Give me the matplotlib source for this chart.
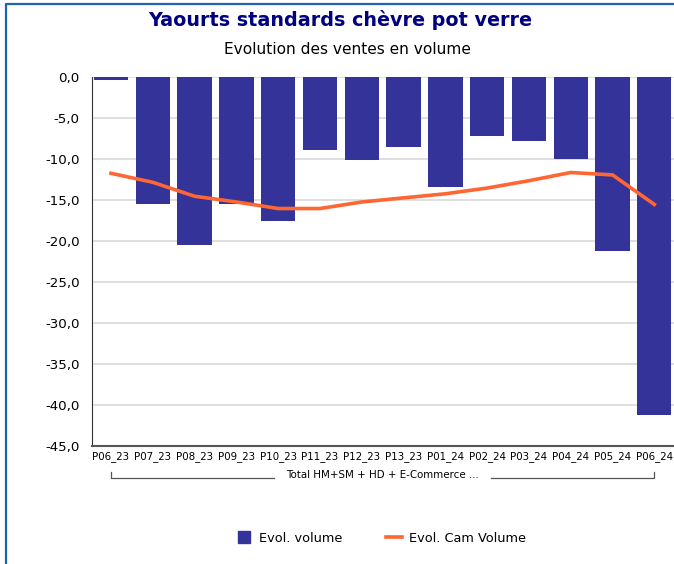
import matplotlib
matplotlib.use("Agg")
import matplotlib.pyplot as plt
from matplotlib.lines import Line2D
import matplotlib.transforms as mtransforms

periods = ["P06_23", "P07_23", "P08_23", "P09_23", "P10_23", "P11_23", "P12_23",
           "P13_23", "P01_24", "P02_24", "P03_24", "P04_24", "P05_24", "P06_24"]
evol_volume = [-0.3, -15.4, -20.5, -15.4, -17.5, -8.9, -10.1,
               -8.5, -13.4, -7.1, -7.8, -10.0, -21.2, -41.2]
evol_cam_volume = [-11.7, -12.8, -14.5, -15.2, -16.0, -16.0, -15.2,
                   -14.7, -14.2, -13.5, -12.6, -11.6, -11.9, -15.5]
yticks = [0, -5, -10, -15, -20, -25, -30, -35, -40, -45]
group_label = "Total HM+SM + HD + E-Commerce ..."

bar_col = "#333399"
line_col = "#ff6633"
W, H = 674, 564

fig = plt.figure(figsize=(W / 100, H / 100), dpi=100)
ax = fig.add_axes([92 / W, (H - 446) / H, (W - 92) / W, (446 - 77.5) / H])

x = list(range(len(periods)))
ax.bar(x, evol_volume, width=0.82, color=bar_col, zorder=2)
ax.plot(x, evol_cam_volume, color=line_col, linewidth=2.6, zorder=3,
        solid_joinstyle="round")

ax.set_xlim(-0.455, 13.47)
ax.set_ylim(-45, 0)
ax.set_yticks(yticks)
ax.set_yticklabels([f"{v:.1f}".replace(".", ",") for v in yticks], fontsize=9.6)
ax.set_xticks(x)
ax.set_xticklabels(periods, fontsize=7.4)
ax.tick_params(axis="y", length=0, pad=9)
ax.tick_params(axis="x", length=0, pad=4)
ax.yaxis.grid(True, color="#d9d9d9", linewidth=1.2, zorder=0)
ax.set_axisbelow(True)
for s in ["top", "right"]:
    ax.spines[s].set_visible(False)
ax.spines["left"].set_color("#333333")
ax.spines["bottom"].set_color("#555555")
ax.spines["bottom"].set_linewidth(1.5)

# group bracket under the ticks
tr = mtransforms.blended_transform_factory(ax.transData, fig.transFigure)
yb = (H - 478) / H
yt = (H - 472) / H
ax.plot([0, 0, 3.9], [yt, yb, yb], color="#555555", lw=0.9, transform=tr, clip_on=False)
ax.plot([9.1, 13, 13], [yb, yb, yt], color="#555555", lw=0.9, transform=tr, clip_on=False)
ax.text(6.5, (H - 475) / H, group_label, transform=tr, ha="center", va="center",
        fontsize=7.4)

fig.text(0.5045, (H - 20) / H, "Yaourts standards chèvre pot verre", ha="center",
         va="center", fontsize=13.8, fontweight="bold", color="#000080")
fig.text(0.515, (H - 49) / H, "Evolution des ventes en volume", ha="center",
         va="center", fontsize=11.1)

handles = [Line2D([], [], color=bar_col, marker="s", markersize=9, linestyle="none"),
           Line2D([], [], color=line_col, linewidth=2.6)]
fig.legend(handles, ["Evol. volume", "Evol. Cam Volume"], loc="center",
           bbox_to_anchor=(0.565, (H - 538) / H), ncol=2, frameon=False,
           fontsize=9.3, handlelength=1.25, columnspacing=3.4, handletextpad=0.5)

# outer frame (left and top edges visible)
fig.add_artist(Line2D([6 / W, 6 / W, 1], [0, (H - 4) / H, (H - 4) / H],
                      color="#1f63b5", lw=1.6, transform=fig.transFigure))

fig.savefig("out.png", dpi=100)
